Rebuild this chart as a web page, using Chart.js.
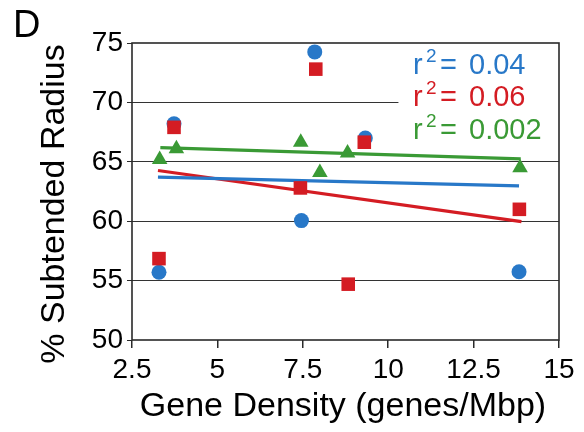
<!DOCTYPE html>
<html>
<head>
<meta charset="utf-8">
<script src="https://cdn.jsdelivr.net/npm/chart.js@4.4.1/dist/chart.umd.min.js"></script>
<style>
  html, body { margin: 0; padding: 0; background: #ffffff; }
  canvas { display: block; }
</style>
</head>
<body>
<canvas id="c" width="584" height="432"></canvas>
<script>
// ---- data ----
const xTickLabels = ['2.5', '5', '7.5', '10', '12.5', '15'];
const yTickLabels = ['50', '55', '60', '65', '70', '75'];

const blueX = [3.29, 3.73, 7.85, 7.46, 9.33, 13.83];
const blueY = [55.7, 68.2, 74.25, 60.05, 67.0, 55.75];

const redX = [3.29, 3.73, 7.88, 7.43, 9.30, 8.83, 13.84];
const redY = [56.85, 67.9, 72.8, 62.8, 66.65, 54.7, 61.0];

const greenX = [3.31, 3.80, 7.44, 8.0, 8.81, 13.86];
const greenY = [65.2, 66.1, 66.65, 64.1, 65.75, 64.5];

const blueFitX = [3.26, 13.83];
const blueFitY = [63.71, 62.98];
const redFitX = [3.26, 13.9];
const redFitY = [64.27, 59.97];
const greenFitX = [3.33, 13.88];
const greenFitY = [66.2, 65.25];

const r2Values = ['0.04', '0.06', '0.002'];

const BLUE = '#2878c8';
const RED = '#d41c23';
const GREEN = '#3a9a35';
const FONT = '"Liberation Sans", Arial, Helvetica, sans-serif';

function pts(xs, ys) { return xs.map((x, i) => ({ x: x, y: ys[i] })); }

const decor = {
  id: 'decor',
  beforeDatasetsDraw(chart) {
    const { ctx, chartArea: a, scales: { x, y } } = chart;
    ctx.save();
    // partial gridline at 70
    ctx.strokeStyle = '#333';
    ctx.lineWidth = 1;
    const py = Math.round(y.getPixelForValue(70)) + 0.5;
    ctx.beginPath();
    ctx.moveTo(a.left, py);
    ctx.lineTo(x.getPixelForValue(10.3), py);
    ctx.stroke();
    // plot frame
    ctx.strokeStyle = '#2a2a2a';
    ctx.lineWidth = 1.6;
    ctx.strokeRect(a.left, a.top, a.right - a.left, a.bottom - a.top);
    ctx.restore();
  },
  afterDraw(chart) {
    const { ctx } = chart;
    ctx.save();
    ctx.fillStyle = '#000';
    ctx.textBaseline = 'alphabetic';
    // panel letter
    ctx.font = '38px ' + FONT;
    ctx.textAlign = 'left';
    ctx.fillText('D', 13, 37);
    // x title
    ctx.font = '34px ' + FONT;
    ctx.textAlign = 'center';
    ctx.fillText('Gene Density (genes/Mbp)', 343, 416);
    // y title
    ctx.save();
    ctx.translate(64, 204);
    ctx.rotate(-Math.PI / 2);
    ctx.fillText('% Subtended Radius', 0, 0);
    ctx.restore();
    // r^2 annotations
    const colors = [BLUE, RED, GREEN];
    const baselines = [74, 106, 139];
    ctx.textAlign = 'left';
    r2Values.forEach((v, i) => {
      const b = baselines[i];
      ctx.fillStyle = colors[i];
      ctx.font = '29px ' + FONT;
      ctx.fillText('r', 413, b);
      ctx.font = '19px ' + FONT;
      ctx.fillText('2', 426, b - 12);
      ctx.font = '29px ' + FONT;
      ctx.fillText('=', 440, b);
      ctx.fillText(v, 469, b);
    });
    ctx.restore();
  }
};

new Chart(document.getElementById('c'), {
  type: 'scatter',
  data: {
    datasets: [
      { type: 'line', data: pts(blueFitX, blueFitY), borderColor: BLUE, borderWidth: 3.2, pointRadius: 0, fill: false, order: 10 },
      { type: 'line', data: pts(redFitX, redFitY), borderColor: RED, borderWidth: 3.2, pointRadius: 0, fill: false, order: 10 },
      { type: 'line', data: pts(greenFitX, greenFitY), borderColor: GREEN, borderWidth: 3.2, pointRadius: 0, fill: false, order: 10 },
      { data: pts(blueX, blueY), pointStyle: 'circle', pointRadius: 7.5, backgroundColor: BLUE, borderWidth: 0, order: 3 },
      { data: pts(redX, redY), pointStyle: 'rect', pointRadius: 9.6, backgroundColor: RED, borderWidth: 0, order: 2 },
      { data: pts(greenX, greenY), pointStyle: 'triangle', pointRadius: 9, backgroundColor: GREEN, borderWidth: 0, order: 1 }
    ]
  },
  options: {
    responsive: false,
    animation: false,
    devicePixelRatio: 1,
    layout: { padding: { left: 0, top: 43, right: 25, bottom: 0 } },
    plugins: { legend: { display: false }, tooltip: { enabled: false } },
    scales: {
      x: {
        type: 'linear',
        min: 2.5, max: 15,
        afterFit(s) { s.height = 92; },
        border: { display: false },
        grid: { drawOnChartArea: false, drawTicks: true, tickLength: 8, color: '#2a2a2a', lineWidth: 1.5 },
        ticks: {
          stepSize: 2.5, maxRotation: 0, autoSkip: false, padding: 5,
          color: '#000', font: { family: FONT, size: 28 },
          callback: (v, i) => xTickLabels[i]
        }
      },
      y: {
        type: 'linear',
        min: 50, max: 75,
        afterFit(s) { s.width = 132; },
        border: { display: false },
        grid: {
          drawTicks: true, tickLength: 5, lineWidth: 1,
          color: (c) => (c.tick && (c.tick.value === 55 || c.tick.value === 60 || c.tick.value === 65)) ? '#333' : 'rgba(0,0,0,0)',
          tickColor: '#2a2a2a'
        },
        ticks: {
          stepSize: 5, padding: 4,
          color: '#000', font: { family: FONT, size: 28 },
          callback: (v, i) => yTickLabels[i]
        }
      }
    }
  },
  plugins: [decor]
});
</script>
</body>
</html>
